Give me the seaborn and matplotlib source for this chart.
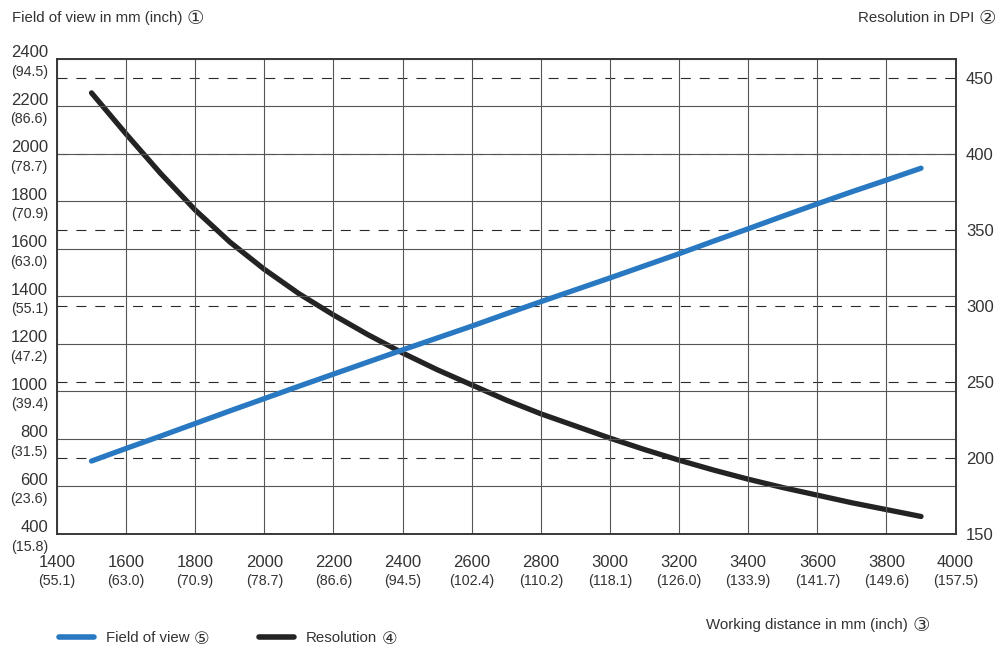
import numpy as np
import pandas as pd
import matplotlib
matplotlib.use("Agg")
import matplotlib.pyplot as plt
import matplotlib.transforms as mtrans
import seaborn as sns
from matplotlib.ticker import FixedLocator
from matplotlib.lines import Line2D

#%% data
distance_mm = [1500, 1600, 1700, 1800, 1900, 2000, 2100, 2200, 2300, 2400, 2500, 2600, 2700,
               2800, 2900, 3000, 3100, 3200, 3300, 3400, 3500, 3600, 3700, 3800, 3900]
fov_mm = [707, 760, 812, 865, 918, 970, 1022, 1073, 1124, 1175, 1225, 1275, 1327,
          1378, 1428, 1478, 1529, 1580, 1633, 1685, 1738, 1790, 1841, 1890, 1940]
resolution_dpi = [440, 413, 387, 363, 342, 324, 308, 294, 281, 269, 258, 248, 238,
                  229, 221, 213, 205.5, 198.5, 192, 186, 180.5, 175.5, 170.5, 166, 161.5]

x_ticks = [1400, 1600, 1800, 2000, 2200, 2400, 2600, 2800, 3000, 3200, 3400, 3600, 3800, 4000]
x_inch = ["(55.1)", "(63.0)", "(70.9)", "(78.7)", "(86.6)", "(94.5)", "(102.4)",
          "(110.2)", "(118.1)", "(126.0)", "(133.9)", "(141.7)", "(149.6)", "(157.5)"]
y_ticks = [400, 600, 800, 1000, 1200, 1400, 1600, 1800, 2000, 2200, 2400]
y_inch = ["(15.8)", "(23.6)", "(31.5)", "(39.4)", "(47.2)", "(55.1)", "(63.0)",
          "(70.9)", "(78.7)", "(86.6)", "(94.5)"]
dpi_ticks = [150, 200, 250, 300, 350, 400, 450]

df = pd.DataFrame({"distance": distance_mm, "fov": fov_mm, "dpi": resolution_dpi})

#%% style
sns.set_style("white")
plt.rcParams["font.family"] = ["Liberation Sans", "DejaVu Sans"]
txt = "#333333"
blue = "#2878c2"
black = "#232323"

fig = plt.figure(figsize=(10.08, 6.48), dpi=100)
ax = fig.add_axes([0.0565, 0.176, 0.8915, 0.733])
ax2 = ax.twinx()
ax.set_zorder(2)
ax.patch.set_visible(False)
ax2.set_zorder(1)

sns.lineplot(data=df, x="distance", y="dpi", ax=ax2, color=black, lw=3.8,
             solid_capstyle="round", solid_joinstyle="round", label="Resolution")
sns.lineplot(data=df, x="distance", y="fov", ax=ax, color=blue, lw=3.8,
             solid_capstyle="round", solid_joinstyle="round", label="Field of view")

ax.set_xlim(1400, 4000)
ax.set_ylim(400, 2400)
ax2.set_ylim(150, 462.3)

# left axis: mm on top, inch below
ax.set_yticks(y_ticks)
ax.set_yticklabels([str(v) for v in y_ticks], fontsize=12, color=txt, va="bottom")
ax.yaxis.set_minor_locator(FixedLocator(y_ticks))
ax.yaxis.remove_overlapping_locs = False
ax.set_yticklabels(y_inch, minor=True, fontsize=10.3, color=txt, va="top")
ax.tick_params(axis="y", which="both", length=0, pad=6.5)
for lab in ax.yaxis.get_majorticklabels():
    lab.set_transform(lab.get_transform() + mtrans.ScaledTranslation(0, -1 / 72, fig.dpi_scale_trans))
for lab in ax.yaxis.get_minorticklabels():
    lab.set_transform(lab.get_transform() + mtrans.ScaledTranslation(0, -4.2 / 72, fig.dpi_scale_trans))

# bottom axis
ax.set_xticks(x_ticks)
ax.set_xticklabels([str(v) for v in x_ticks], fontsize=12, color=txt)
ax.xaxis.set_minor_locator(FixedLocator(x_ticks))
ax.xaxis.remove_overlapping_locs = False
ax.set_xticklabels(x_inch, minor=True, fontsize=10.3, color=txt)
ax.tick_params(axis="x", which="major", length=0, pad=15)
ax.tick_params(axis="x", which="minor", length=0, pad=29)

# right axis
ax2.set_yticks(dpi_ticks)
ax2.set_yticklabels([str(v) for v in dpi_ticks], fontsize=12, color=txt)
ax2.tick_params(axis="y", length=0, pad=7.5)

ax.set_xlabel("")
ax.set_ylabel("")
ax2.set_ylabel("")

ax.grid(True, which="major", axis="both", color="#555555", lw=0.8)
ax.set_axisbelow(True)
ax2.grid(True, axis="y", color="#2a2a2a", lw=0.8, linestyle=(0, (9, 8)))

for a in (ax, ax2):
    for s in a.spines.values():
        s.set_color("#333333")
        s.set_linewidth(1.1)
        s.set_visible(True)

ax.get_legend().remove()
ax2.get_legend().remove()

handles = [Line2D([], [], color=blue, lw=4, solid_capstyle="round"),
           Line2D([], [], color=black, lw=4, solid_capstyle="round")]
labels = ["Field of view", "Resolution"]
leg = fig.legend(handles, labels, loc="center left", bbox_to_anchor=(0.045, 1 - 638 / 648),
                 ncol=2, frameon=False, fontsize=10.8, handlelength=2.35, handletextpad=0.8,
                 columnspacing=4.6, labelcolor=txt)


def circled(anchor_text, sym, size=14):
    # larger circled number right after a piece of text
    fig.add_artist(plt.Annotation(sym, xy=(1, 0.45), xycoords=anchor_text,
                                  xytext=(3, 0), textcoords="offset points",
                                  fontsize=size, color=txt, ha="left", va="center",
                                  family=["DejaVu Sans"], zorder=10))


t1 = fig.text(12 / 1008, 1 - 18 / 648, "Field of view in mm (inch)", fontsize=10.8,
              color=txt, ha="left", va="center")
t2 = fig.text(974 / 1008, 1 - 18 / 648, "Resolution in DPI", fontsize=10.8,
              color=txt, ha="right", va="center")
t3 = fig.text(908 / 1008, 1 - 625 / 648, "Working distance in mm (inch)", fontsize=10.8,
              color=txt, ha="right", va="center")
circled(t1, "\u2460")
circled(t2, "\u2461")
circled(t3, "\u2462")
circled(leg.get_texts()[0], "\u2464", 12.5)
circled(leg.get_texts()[1], "\u2463", 12.5)

plt.savefig("out.png", dpi=100)
